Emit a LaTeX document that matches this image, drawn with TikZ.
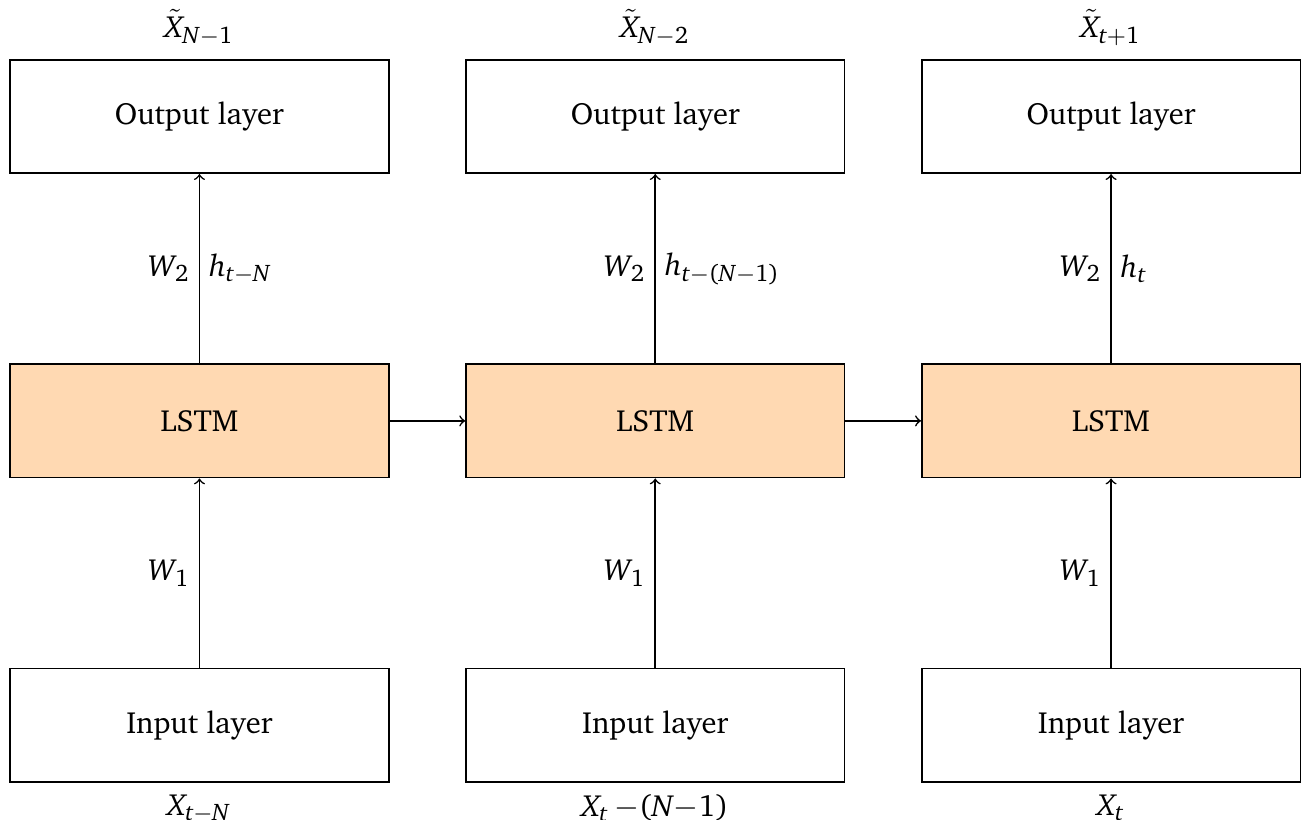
\documentclass[tikz,border=0pt]{standalone}
\usepackage[T1]{fontenc}
\usepackage{charter}
\usepackage{tikz}
\usetikzlibrary{positioning}
% charter letters in math
\DeclareSymbolFont{chit}{T1}{bch}{m}{it}
\DeclareSymbolFont{chup}{T1}{bch}{m}{n}
\DeclareMathSymbol{X}{\mathalpha}{chit}{`X}
\DeclareMathSymbol{N}{\mathalpha}{chit}{`N}
\DeclareMathSymbol{W}{\mathalpha}{chit}{`W}
\DeclareMathSymbol{h}{\mathalpha}{chit}{`h}
\DeclareMathSymbol{t}{\mathalpha}{chit}{`t}
\DeclareMathSymbol{1}{\mathalpha}{chup}{`1}
\DeclareMathSymbol{2}{\mathalpha}{chup}{`2}
\DeclareMathSymbol{(}{\mathopen}{chup}{`(}
\DeclareMathSymbol{)}{\mathclose}{chup}{`)}
\DeclareMathSizes{11.5}{11.5}{9}{7}

\begin{document}
\begin{tikzpicture}[semithick, font=\fontsize{11.5}{14}\selectfont,
  node distance=2.5cm and 1cm,
  blk/.style={draw, minimum width=5cm, minimum height=1.5cm, inner sep=0pt},
  cell/.style={blk, fill=orange!30},
  a/.style={->}]
\useasboundingbox (-2.635,1.539) rectangle (14.591,-9.281);
% output row
\node[blk] (out1) at (0,0) {Output layer};
\node[blk, right=of out1] (out2) {Output layer};
\node[blk, right=of out2] (out3) {Output layer};
\node[above=0.5mm of out1] (y1) {$\tilde{X}_{N-1}$};
\node[above=0.5mm of out2] (y2) {$\tilde{X}_{N-2}$};
\node[above=0.5mm of out3] (y3) {$\tilde{X}_{t+1}$};
% lstm row
\node[cell, below=of out1] (lstm1) {LSTM};
\node[cell, below=of out2] (lstm2) {LSTM};
\node[cell, below=of out3] (lstm3) {LSTM};
% input row
\node[blk, below=of lstm1] (in1) {Input layer};
\node[blk, below=of lstm2] (in2) {Input layer};
\node[blk, below=of lstm3] (in3) {Input layer};
\node[below=0.3mm of in1] (x1) {$X_{t-N}$};
\node[below=0.3mm of in2] (x2) {$X_t\,{-}(N{-}1)$};
\node[below=0.3mm of in3] (x3) {$X_t$};
% connections
\draw[a] (lstm1) -- node[left] {$W_2$} node[right] {$h_{t-N}$} (out1);
\draw[a] (lstm2) -- node[left] {$W_2$} node[right] {$h_{t-(N-1)}$} (out2);
\draw[a] (lstm3) -- node[left] {$W_2$} node[right] {$h_t$} (out3);
\draw[a] (in1) -- node[left] {$W_1$} (lstm1);
\draw[a] (in2) -- node[left] {$W_1$} (lstm2);
\draw[a] (in3) -- node[left] {$W_1$} (lstm3);
\draw[a] (lstm1) -- (lstm2);
\draw[a] (lstm2) -- (lstm3);
\end{tikzpicture}
\end{document}
